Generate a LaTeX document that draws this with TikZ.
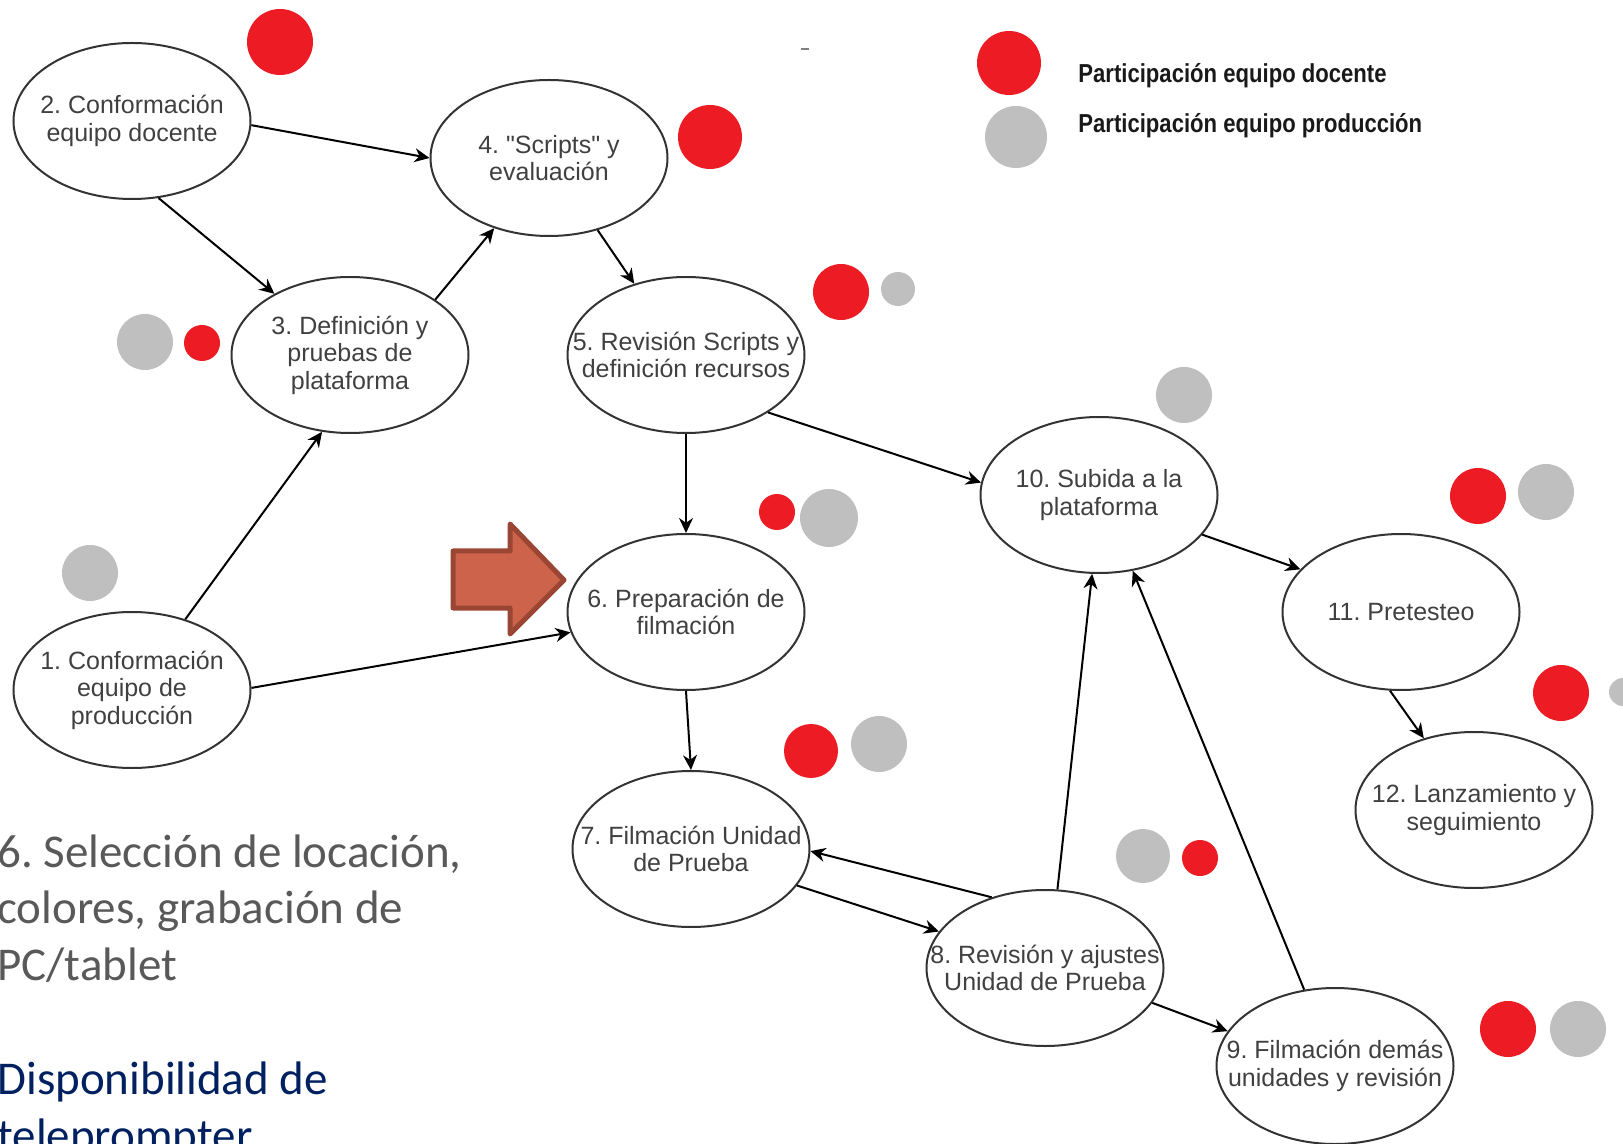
\documentclass[tikz,border=0pt]{standalone}
\usepackage{fontspec}
\setmainfont{Liberation Sans}
\newfontfamily\calibri{Carlito}
\newfontfamily\legfont[FakeStretch=0.85]{Liberation Sans}
\usetikzlibrary{arrows.meta,shapes.geometric}
\definecolor{docente}{HTML}{ED1C24}
\definecolor{produccion}{HTML}{BFBFBF}
\definecolor{flechafill}{HTML}{CD634A}
\definecolor{flechaborde}{HTML}{9B4535}
\definecolor{notagris}{HTML}{595959}
\definecolor{notaazul}{HTML}{002060}
\frenchspacing

\begin{document}
\begin{tikzpicture}[x=0.5pt,y=-0.5pt,>={Stealth[length=7.5pt,width=7pt]},
  etapa/.style={ellipse,draw=black!80,line width=1pt,minimum width=118.5pt,minimum height=78pt,
    inner xsep=-16pt,inner ysep=0pt,align=center,text=black!75,font=\fontsize{12.5}{13.75}\selectfont},
  flujo/.style={->,line width=1pt},
  leg/.style={anchor=base west,inner sep=0pt,font=\legfont\bfseries\fontsize{13}{15}\selectfont,text=black!90},
  nota/.style={anchor=base west,align=left,inner sep=0pt,font=\calibri\fontsize{23.5}{28.25}\selectfont}]
\useasboundingbox (0,0) rectangle (1623,1144);
\clip (0,0) rectangle (1623,1144);

%% participation dots
\foreach \x/\y/\r in {280/42/33,710/137/32,202/343/18,1009/63/32,841/292/28,777/512/18,
  811/751/27,1478/496/28,1561/693/28,1200/858/18,1508/1029/28}
  \fill[docente] (\x,\y) circle (\r);
\foreach \x/\y/\r in {145/342/28,1016/137/31,898/289/17,1184/395/28,90/573/28,829/518/29,
  879/744/28,1546/492/28,1623/692/14,1143/856/27,1578/1029/28}
  \fill[produccion] (\x,\y) circle (\r);
\draw[black!50,line width=0.8pt] (801,49) -- (809,49);

%% legend
\node[leg] (legdoc) at (1078,83) {Participación equipo docente};
\node[leg] (legprod) at (1078,133) {Participación equipo producción};

%% stages
\node[etapa] (n1) at (132,690) {1. Conformación\\equipo de\\producción};
\node[etapa] (n2) at (132,121) {2. Conformación\\equipo docente};
\node[etapa] (n3) at (350,355) {3. Definición y\\pruebas de\\plataforma};
\node[etapa] (n4) at (549,158) {4. \textquotedbl Scripts\textquotedbl\ y\\evaluación};
\node[etapa] (n5) at (686,355) {5. Revisión Scripts y\\definición recursos};
\node[etapa] (n6) at (686,612) {6. Preparación de\\filmación};
\node[etapa] (n7) at (691,849) {7. Filmación Unidad\\de Prueba};
\node[etapa] (n8) at (1045,968) {8. Revisión y ajustes\\Unidad de Prueba};
\node[etapa] (n9) at (1335,1066) {9. Filmación demás\\unidades y revisión};
\node[etapa] (n10) at (1099,495) {10. Subida a la\\plataforma};
\node[etapa] (n11) at (1401,612) {11. Pretesteo};
\node[etapa] (n12) at (1474,810) {12. Lanzamiento y\\seguimiento};

%% connectors
\draw[flujo] (n2.-2) -- (n4.180);
\draw[flujo] (n2.-71) -- (n3.141);
\draw[flujo] (n3.33) -- (n4.232);
\draw[flujo] (n4.-56) -- (n5.126);
\draw[flujo] (n1.53) -- (n3.-110);
\draw[flujo] (n1.1) -- (n6.190);
\draw[flujo] (n5.-35) -- (n10.174);
\draw[flujo] (n5.south) -- (n6.north);
\draw[flujo] (n6.south) -- (n7.north);
\draw[flujo] (n10.-21) -- (n11.157);
\draw[flujo] (n11.-98) -- (n12.125);
\draw[flujo] (n8.127) -- (n7.-1);
\draw[flujo] (n7.-19) -- (n8.161);
\draw[flujo] (n8.81) -- (n10.-95);
\draw[flujo] (n9.112) -- (n10.-66);
\draw[flujo] (n8.-18) -- (n9.162);

%% pointer arrow
\draw[fill=flechafill,draw=flechaborde,line width=2.5pt,line join=round]
  (453,551) -- (510,551) -- (510,524) -- (564,580) -- (510,634) -- (510,608) -- (453,608) -- cycle;

%% side notes (base = last line)
\node[nota,text=notagris] (sel) at (-3,980) {6. Selección de locación,\\colores, grabación de\\PC/tablet};
\node[nota,text=notaazul] (disp) at (-3,1151) {Disponibilidad de\\teleprompter};
\end{tikzpicture}
\end{document}
